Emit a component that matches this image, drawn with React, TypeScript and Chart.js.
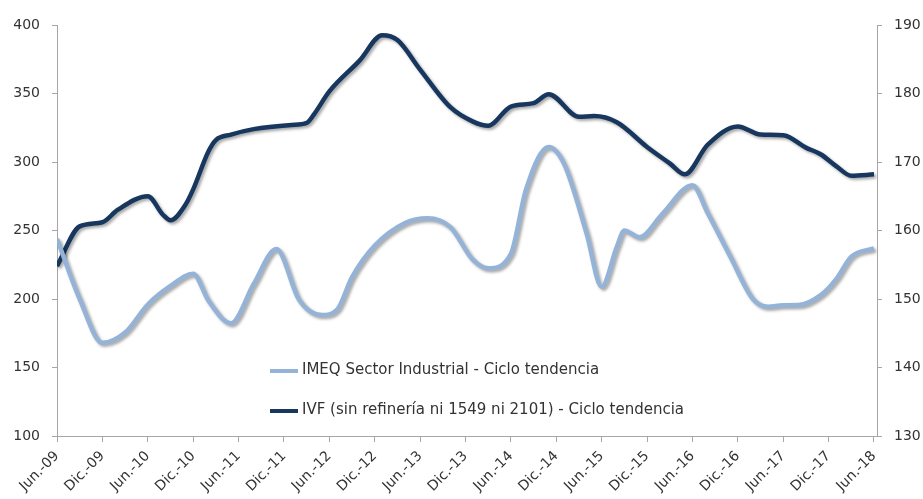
import { useEffect, useRef } from "react";
import { Chart, registerables } from "chart.js";

Chart.register(...registerables);

const tickLabels = [
  "Jun.-09", "Dic.-09", "Jun.-10", "Dic.-10", "Jun.-11", "Dic.-11", "Jun.-12",
  "Dic.-12", "Jun.-13", "Dic.-13", "Jun.-14", "Dic.-14", "Jun.-15", "Dic.-15",
  "Jun.-16", "Dic.-16", "Jun.-17", "Dic.-17", "Jun.-18",
];

// months counted from Jun.-09 (0) to Jun.-18 (108)
const imeqMonths = [0, 3, 6, 9, 12, 15, 18, 20, 23, 26, 29, 32, 35, 37, 39, 42, 46, 49, 52, 55, 57, 60, 62, 65, 67, 70, 72, 74, 75, 77, 80, 84, 86, 89, 92, 94, 96, 98, 101, 103, 105, 108];
const imeqValues = [244, 200, 168, 175.5, 196, 209.5, 218.5, 199, 182.3, 211, 236.5, 199.5, 188.3, 192, 216, 239, 255.5, 259, 252.5, 228.5, 222.4, 233, 280, 311, 299, 248, 209, 238, 250, 245, 262, 283, 263, 231, 200, 194.4, 195.5, 195.6, 203, 214.5, 231, 237];

const ivfMonths = [0, 3, 6, 8, 12, 14, 15, 17, 18, 20, 21, 23, 26, 31, 33, 34, 36, 40, 43, 45, 48, 52, 55, 57, 60, 63, 65, 69, 71, 74, 78, 81, 83, 86, 90, 93, 96, 99, 101, 103, 105, 108];
const ivfValues = [154.8, 160.6, 161.2, 163.0, 165.0, 162.3, 161.5, 163.8, 166.0, 171.5, 173.2, 174.0, 174.8, 175.4, 175.7, 177.0, 180.3, 184.8, 188.5, 187.8, 183.5, 178.0, 175.9, 175.3, 178.1, 178.6, 179.9, 176.6, 176.7, 175.8, 172.2, 169.8, 168.2, 172.5, 175.2, 174.0, 173.9, 172.1, 171.1, 169.4, 168.0, 168.2];

const seriesNames = [
  "IMEQ Sector Industrial - Ciclo tendencia",
  "IVF (sin refinería ni 1549 ni 2101) - Ciclo tendencia",
];
const seriesColors = ["#95B3D7", "#17375E"];

const FONT = "'DejaVu Sans', sans-serif";
const TEXT = "#333333";
const AXIS = "#A6A6A6";

const shadowPlugin = {
  id: "lineShadow",
  beforeDatasetDraw(chart: any) {
    const ctx = chart.ctx;
    ctx.save();
    ctx.shadowColor = "rgba(0,0,0,0.35)";
    ctx.shadowBlur = 3;
    ctx.shadowOffsetX = 2;
    ctx.shadowOffsetY = 2;
  },
  afterDatasetDraw(chart: any) {
    chart.ctx.restore();
  },
};

const innerLegend = {
  id: "innerLegend",
  afterDraw(chart: any) {
    const ctx = chart.ctx;
    const ys = [371, 411];
    ctx.save();
    chart.data.datasets.forEach((ds: any, i: number) => {
      ctx.strokeStyle = ds.borderColor;
      ctx.lineWidth = 4;
      ctx.beginPath();
      ctx.moveTo(270, ys[i]);
      ctx.lineTo(298, ys[i]);
      ctx.stroke();
      ctx.fillStyle = TEXT;
      ctx.font = `15px ${FONT}`;
      ctx.textBaseline = "middle";
      ctx.textAlign = "left";
      ctx.fillText(ds.label, 302, ys[i] - 1);
    });
    ctx.restore();
  },
};

export default function App() {
  const ref = useRef<HTMLCanvasElement | null>(null);

  useEffect(() => {
    document.body.style.margin = "0";
    const canvas = ref.current;
    if (!canvas) return;
    const chart = new Chart(canvas, {
      type: "line",
      data: {
        datasets: [
          {
            label: seriesNames[0],
            data: imeqMonths.map((m, i) => ({ x: m, y: imeqValues[i] })),
            borderColor: seriesColors[0],
            backgroundColor: seriesColors[0],
            borderWidth: 4.5,
            pointRadius: 0,
            cubicInterpolationMode: "monotone",
            yAxisID: "yL",
          },
          {
            label: seriesNames[1],
            data: ivfMonths.map((m, i) => ({ x: m, y: ivfValues[i] })),
            borderColor: seriesColors[1],
            backgroundColor: seriesColors[1],
            borderWidth: 4.5,
            pointRadius: 0,
            cubicInterpolationMode: "monotone",
            yAxisID: "yR",
          },
        ],
      },
      options: {
        animation: false,
        responsive: false,
        maintainAspectRatio: false,
        layout: { padding: { top: 25, left: 0, right: 0, bottom: 0 } },
        plugins: {
          legend: { display: false },
          tooltip: { enabled: false },
        },
        scales: {
          x: {
            type: "linear",
            min: 0,
            max: 108.4,
            afterBuildTicks: (scale: any) => {
              scale.ticks = tickLabels.map((_, i) => ({ value: i * 6 }));
            },
            afterFit: (scale: any) => {
              scale.height = 63;
            },
            grid: {
              display: true,
              drawOnChartArea: false,
              drawTicks: true,
              tickLength: 6,
              color: AXIS,
            },
            border: { display: true, color: AXIS },
            ticks: {
              autoSkip: false,
              minRotation: 45,
              maxRotation: 45,
              padding: 6,
              color: TEXT,
              font: { family: FONT, size: 14 },
              callback: (v: any) => tickLabels[Math.round(Number(v) / 6)] ?? "",
            },
          },
          yL: {
            type: "linear",
            position: "left",
            min: 100,
            max: 400,
            afterFit: (scale: any) => {
              scale.width = 57;
            },
            grid: {
              display: true,
              drawOnChartArea: false,
              drawTicks: true,
              tickLength: 5,
              color: AXIS,
            },
            border: { display: true, color: AXIS },
            ticks: {
              stepSize: 50,
              padding: 12,
              color: TEXT,
              font: { family: FONT, size: 14 },
            },
          },
          yR: {
            type: "linear",
            position: "right",
            min: 130,
            max: 190,
            afterFit: (scale: any) => {
              scale.width = 46;
            },
            grid: {
              display: true,
              drawOnChartArea: false,
              drawTicks: true,
              tickLength: 5,
              color: AXIS,
            },
            border: { display: true, color: AXIS },
            ticks: {
              stepSize: 10,
              padding: 12,
              color: TEXT,
              font: { family: FONT, size: 14 },
            },
          },
        },
      },
      plugins: [shadowPlugin, innerLegend],
    } as any);
    return () => chart.destroy();
  }, []);

  return (
    <div style={{ width: 923, height: 499 }}>
      <canvas ref={ref} width={923} height={499} style={{ width: 923, height: 499, display: "block" }} />
    </div>
  );
}
